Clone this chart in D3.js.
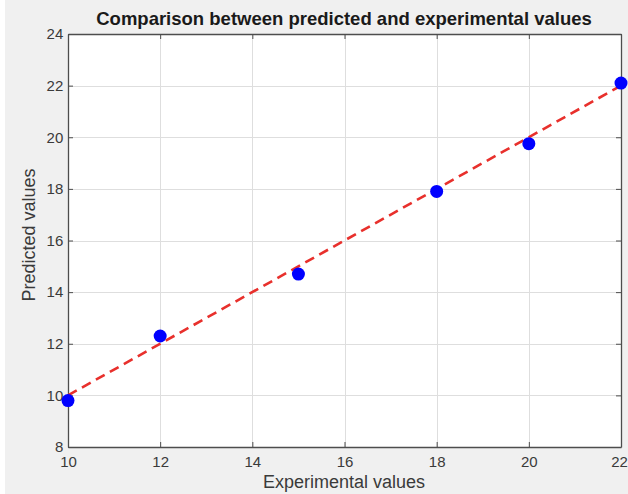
<!DOCTYPE html>
<html>
<head>
<meta charset="utf-8">
<script src="https://cdn.jsdelivr.net/npm/d3@7"></script>
<style>
  html, body { margin: 0; padding: 0; background: #f0f0f0; }
  svg { display: block; }
</style>
</head>
<body>
<svg id="chart" width="628" height="494"></svg>
<script>
// values
const experimental = [10, 12, 15, 18, 20, 22]
const predicted = [9.8, 12.3, 14.7, 17.9, 19.75, 22.1]
const fitX = [10, 22]
const fitY = [10, 22]
const xTicks = [10, 12, 14, 16, 18, 20, 22]
const yTicks = [8, 10, 12, 14, 16, 18, 20, 22, 24]

const W = 628, H = 494
const margin = {top: 34, right: 7, bottom: 47, left: 68}
const svg = d3.select('#chart')

// thin white strip at the left of the screenshot
svg.append('rect').attr('x', 0).attr('y', 0).attr('width', 5).attr('height', H).attr('fill', '#fff')

const x = d3.scaleLinear().domain([10, 22]).range([margin.left, W - margin.right])
const y = d3.scaleLinear().domain([8, 24]).range([H - margin.bottom, margin.top])

// plot area
svg.append('rect')
  .attr('x', x(10)).attr('y', y(24))
  .attr('width', x(22) - x(10)).attr('height', y(8) - y(24))
  .attr('fill', '#fff')

// grid
const grid = svg.append('g').attr('stroke', '#dedede').attr('stroke-width', 1)
grid.selectAll('.gx').data(xTicks.slice(1, -1)).join('line')
  .attr('x1', d => Math.round(x(d)) + 0.5).attr('x2', d => Math.round(x(d)) + 0.5)
  .attr('y1', y(24)).attr('y2', y(8))
grid.selectAll('.gy').data(yTicks.slice(1, -1)).join('line')
  .attr('y1', d => Math.round(y(d)) + 0.5).attr('y2', d => Math.round(y(d)) + 0.5)
  .attr('x1', x(10)).attr('x2', x(22))

// axes: ticks inward on all four sides
const tickCol = '#4d4d4d'
const axBottom = svg.append('g')
  .attr('transform', `translate(0,${y(8)})`)
  .call(d3.axisBottom(x).tickValues(xTicks).tickSizeInner(-5).tickSizeOuter(0).tickPadding(9))
const axLeft = svg.append('g')
  .attr('transform', `translate(${x(10)},0)`)
  .call(d3.axisLeft(y).tickValues(yTicks).tickSizeInner(-5).tickSizeOuter(0).tickPadding(7))
const axTop = svg.append('g')
  .attr('transform', `translate(0,${y(24)})`)
  .call(d3.axisTop(x).tickValues(xTicks).tickSizeInner(-5).tickSizeOuter(0).tickFormat(''))
const axRight = svg.append('g')
  .attr('transform', `translate(${x(22)},0)`)
  .call(d3.axisRight(y).tickValues(yTicks).tickSizeInner(-5).tickSizeOuter(0).tickFormat(''))

;[axBottom, axLeft, axTop, axRight].forEach(g => {
  g.select('.domain').attr('stroke', tickCol).attr('stroke-width', 1.3)
  g.selectAll('.tick line').attr('stroke', tickCol)
  g.selectAll('text')
    .attr('font-family', 'Liberation Sans, Arial, sans-serif')
    .attr('font-size', 15)
    .attr('fill', '#3a3a3a')
})
axLeft.selectAll('text').attr('dx', '0.15em')
// last x label sits against the right edge
axBottom.selectAll('.tick text').filter(d => d === 22).attr('dx', -2)

// diagonal reference line
svg.append('line')
  .attr('x1', x(fitX[0])).attr('y1', y(fitY[0]))
  .attr('x2', x(fitX[1])).attr('y2', y(fitY[1]))
  .attr('stroke', '#e8302c').attr('stroke-width', 2.6)
  .attr('stroke-dasharray', '10,6')

// points
svg.append('g')
  .selectAll('circle')
  .data(experimental)
  .join('circle')
    .attr('cx', d => x(d))
    .attr('cy', (d, i) => y(predicted[i]))
    .attr('r', 6.5)
    .attr('fill', '#0000ff')

// labels
svg.append('text')
  .attr('x', 344).attr('y', 25)
  .attr('text-anchor', 'middle')
  .attr('font-family', 'Liberation Sans, Arial, sans-serif')
  .attr('font-weight', 'bold')
  .attr('font-size', 18.5)
  .attr('fill', '#1a1a1a')
  .text('Comparison between predicted and experimental values')

svg.append('text')
  .attr('x', 344).attr('y', 488)
  .attr('text-anchor', 'middle')
  .attr('font-family', 'Liberation Sans, Arial, sans-serif')
  .attr('font-size', 18)
  .attr('fill', '#3a3a3a')
  .text('Experimental values')

svg.append('text')
  .attr('transform', 'translate(35,235) rotate(-90)')
  .attr('text-anchor', 'middle')
  .attr('font-family', 'Liberation Sans, Arial, sans-serif')
  .attr('font-size', 18)
  .attr('fill', '#3a3a3a')
  .text('Predicted values')
</script>
</body>
</html>
